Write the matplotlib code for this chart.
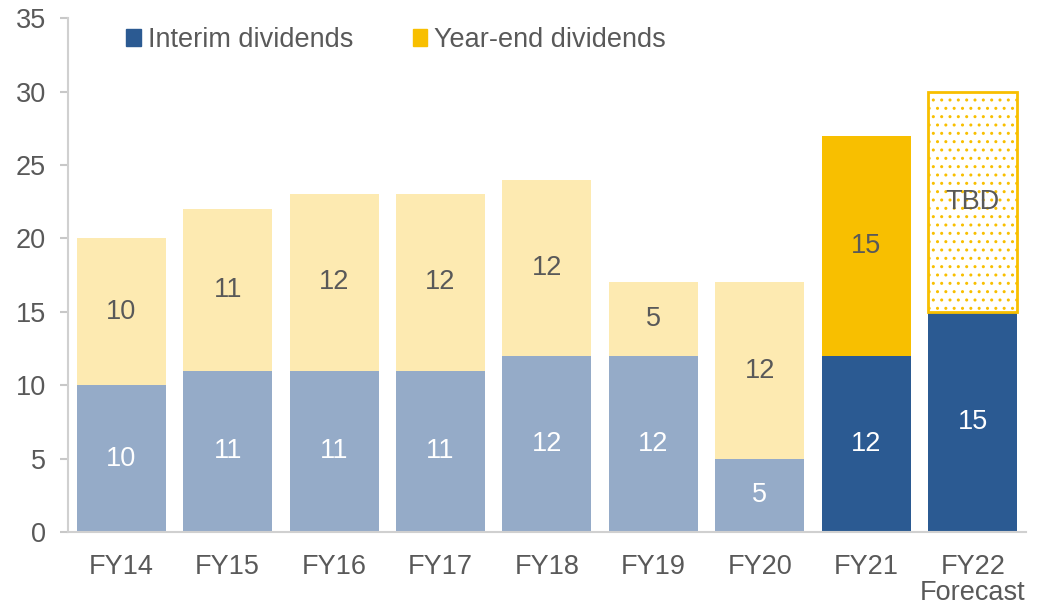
import numpy as np
import matplotlib.pyplot as plt
from matplotlib.patches import Patch

plt.rcParams['font.family'] = ['Liberation Sans', 'DejaVu Sans']
plt.rcParams['hatch.linewidth'] = 1.0

categories = ["FY14", "FY15", "FY16", "FY17", "FY18", "FY19", "FY20", "FY21", "FY22\nForecast"]
interim = [10, 11, 11, 11, 12, 12, 5, 12, 15]
year_end = [10, 11, 12, 12, 12, 5, 12, 15, 15]
year_end_labels = ["10", "11", "12", "12", "12", "5", "12", "15", "TBD"]

light_blue = "#95abc8"
light_yellow = "#fdeab1"
dark_blue = "#2b5a92"
gold = "#f8bf00"
text_col = "#595959"
fs = 19.5

# past years faded, recent years solid
interim_colors = [light_blue] * 7 + [dark_blue] * 2
year_end_colors = [light_yellow] * 7 + [gold]

fig, ax = plt.subplots(figsize=(10.4, 6.07), dpi=100)
fig.subplots_adjust(left=0.0654, right=0.9865, bottom=0.1236, top=0.970)

x = np.arange(len(categories))
w = 0.836
ax.bar(x, interim, w, color=interim_colors, zorder=2)
ax.bar(x[:8], year_end[:8], w, bottom=interim[:8], color=year_end_colors, zorder=2)
# forecast year-end: not decided yet, dotted outline
ax.bar(x[8], year_end[8], w, bottom=interim[8], color="white", edgecolor=gold,
       hatch="..", linewidth=2, zorder=2)

for i in range(len(categories)):
    ax.text(x[i], interim[i] / 2, str(interim[i]), ha="center", va="center",
            color="white", fontsize=fs, zorder=3)
    ax.text(x[i], interim[i] + year_end[i] / 2, year_end_labels[i], ha="center",
            va="center", color=text_col, fontsize=fs, zorder=3)

ax.set_xlim(-0.5, 8.5)
ax.set_ylim(0, 35)
ax.set_yticks(range(0, 36, 5))
ax.set_xticks(x)
ax.set_xticklabels(categories, linespacing=1.0)
ax.tick_params(axis="y", labelsize=fs, labelcolor=text_col, color="#c8c8c8",
               length=6, width=1.5, direction="out", pad=10)
ax.tick_params(axis="x", labelsize=fs, labelcolor=text_col, length=0, pad=16)
for s in ["top", "right"]:
    ax.spines[s].set_visible(False)
for s in ["left", "bottom"]:
    ax.spines[s].set_color("#d0d0d0")
    ax.spines[s].set_linewidth(1.5)

handles = [Patch(color=dark_blue, label="Interim dividends"),
           Patch(color=gold, label="Year-end dividends")]
leg = ax.legend(handles=handles, loc="upper left", bbox_to_anchor=(0.035, 1.03), ncol=2,
                frameon=False, fontsize=fs, handlelength=0.55, handleheight=0.55,
                handletextpad=0.25, columnspacing=2.2)
for t in leg.get_texts():
    t.set_color(text_col)

fig.savefig("out.png")
